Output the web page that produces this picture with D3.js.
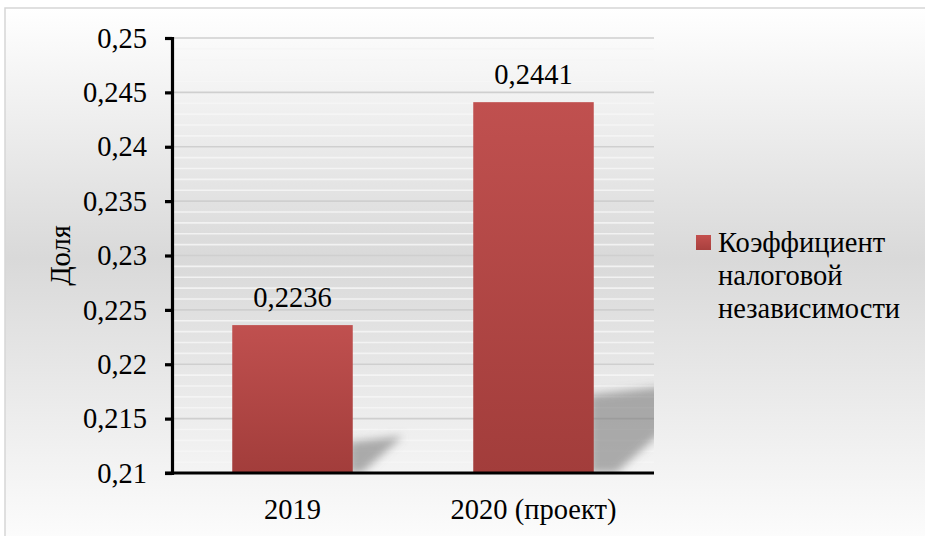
<!DOCTYPE html>
<html>
<head>
<meta charset="utf-8">
<script src="https://cdn.jsdelivr.net/npm/d3@7"></script>
<style>
  html, body { margin: 0; padding: 0; background: #ffffff; }
  svg { display: block; }
  svg text { font-family: "Liberation Serif", Tinos, "Times New Roman", "DejaVu Serif", serif !important; fill: #000; }
</style>
</head>
<body>
<svg id="chart" width="925" height="536"></svg>
<script>
// Коэффициент налоговой независимости
const categories = ["2019", "2020 (проект)"];
const values = [0.2236, 0.2441];
const valueLabels = ["0,2236", "0,2441"];
const seriesName = ["Коэффициент", "налоговой", "независимости"];
const yTicks = [0.21, 0.215, 0.22, 0.225, 0.23, 0.235, 0.24, 0.245, 0.25];
const yTickLabels = ["0,21", "0,215", "0,22", "0,225", "0,23", "0,235", "0,24", "0,245", "0,25"];
const yMinorStep = 0.001;
const yTitle = "Доля";

const FONT = "'Liberation Serif', Tinos, 'Times New Roman', 'DejaVu Serif', serif";
const FS = 28.5;

const svg = d3.select("#chart");
const W = 925, H = 536;
const plot = { left: 172, right: 654, top: 38, bottom: 473 };

const defs = svg.append("defs");

// chart area background: light at top and bottom, grey in the middle
const bg = defs.append("linearGradient").attr("id", "bgGrad")
  .attr("x1", 0).attr("y1", 0).attr("x2", 0).attr("y2", 1);
bg.append("stop").attr("offset", "0%").attr("stop-color", "#ffffff");
bg.append("stop").attr("offset", "45%").attr("stop-color", "#d9d9d9");
bg.append("stop").attr("offset", "100%").attr("stop-color", "#ffffff");

const barGrad = defs.append("linearGradient").attr("id", "barGrad")
  .attr("x1", 0).attr("y1", 0).attr("x2", 0).attr("y2", 1);
barGrad.append("stop").attr("offset", "0%").attr("stop-color", "#c0504f");
barGrad.append("stop").attr("offset", "100%").attr("stop-color", "#a23d3b");

const legGrad = defs.append("linearGradient").attr("id", "legGrad")
  .attr("x1", 0).attr("y1", 0).attr("x2", 0).attr("y2", 1);
legGrad.append("stop").attr("offset", "0%").attr("stop-color", "#c4504e");
legGrad.append("stop").attr("offset", "100%").attr("stop-color", "#a8403e");

defs.append("filter").attr("id", "shadowBlur")
  .attr("x", "-50%").attr("y", "-50%").attr("width", "200%").attr("height", "200%")
  .append("feGaussianBlur").attr("stdDeviation", 4.5);

defs.append("clipPath").attr("id", "plotClip")
  .append("rect").attr("x", plot.left).attr("y", plot.top)
  .attr("width", plot.right - plot.left).attr("height", plot.bottom - plot.top);

// chart frame
svg.append("rect").attr("x", 5).attr("y", 8).attr("width", W + 10).attr("height", H + 20)
  .attr("fill", "url(#bgGrad)").attr("stroke", "#d6d6d6").attr("stroke-width", 1.5);

const x = d3.scaleBand().domain(categories)
  .range([plot.left, plot.right]).paddingInner(0.5).paddingOuter(0.25);
const y = d3.scaleLinear().domain([0.21, 0.25]).range([plot.bottom, plot.top]);

// minor gridlines
const minor = d3.range(0.21, 0.25 + 1e-9, yMinorStep)
  .filter(v => Math.abs(v * 200 - Math.round(v * 200)) > 1e-6);
svg.append("g").selectAll("line").data(minor).join("line")
  .attr("x1", plot.left).attr("x2", plot.right)
  .attr("y1", d => y(d)).attr("y2", d => y(d))
  .attr("stroke", "#f6f6f6").attr("stroke-opacity", 0.85).attr("stroke-width", 1.6);

// major gridlines
svg.append("g").selectAll("line").data(yTicks.slice(1)).join("line")
  .attr("x1", plot.left).attr("x2", plot.right)
  .attr("y1", d => y(d)).attr("y2", d => y(d))
  .attr("stroke", "#cfcfcf").attr("stroke-width", 1.6);

// floor shadows cast by the bars
const shadows = svg.append("g").attr("clip-path", "url(#plotClip)");
categories.forEach((c, i) => {
  const xr = x(c) + x.bandwidth();
  const base = y(0.21);
  const h = base - y(values[i]);
  const pts = [
    [xr - 4, base],
    [xr - 4, base - 0.21 * h],
    [xr + 0.34 * h, base - 0.25 * h],
    [xr + 0.06 * h, base]
  ];
  shadows.append("path")
    .attr("d", d3.line()(pts) + "Z")
    .attr("fill", "#7a7a7a").attr("fill-opacity", 0.6)
    .attr("filter", "url(#shadowBlur)");
});

// bars
svg.append("g").selectAll("rect").data(values).join("rect")
  .attr("x", (d, i) => x(categories[i]))
  .attr("width", x.bandwidth())
  .attr("y", d => y(d))
  .attr("height", d => y(0.21) - y(d))
  .attr("fill", "url(#barGrad)");

// value labels
svg.append("g").selectAll("text").data(values).join("text")
  .attr("x", (d, i) => x(categories[i]) + x.bandwidth() / 2)
  .attr("y", d => y(d) - 18)
  .attr("text-anchor", "middle")
  .attr("font-size", FS)
  .style("font-family", FONT)
  .text((d, i) => valueLabels[i]);

// y axis
const yAxis = d3.axisLeft(y).tickValues(yTicks)
  .tickFormat((d, i) => yTickLabels[i]).tickSize(7).tickPadding(18);
const gy = svg.append("g").attr("transform", `translate(${plot.left},0)`).call(yAxis)
  .attr("font-family", null);
gy.select(".domain").attr("stroke", "#000").attr("stroke-width", 3.2);
gy.selectAll(".tick line").attr("stroke", "#000").attr("stroke-width", 3.2);
gy.selectAll(".tick text").attr("font-size", FS).style("font-family", FONT).attr("fill", "#000");

// x axis
const xAxis = d3.axisBottom(x).tickSize(0).tickPadding(26);
const gx = svg.append("g").attr("transform", `translate(0,${plot.bottom})`).call(xAxis)
  .attr("font-family", null);
gx.select(".domain").attr("stroke", "#000").attr("stroke-width", 3.2)
  .attr("d", `M${plot.left - 7},0H${plot.right}`);
gx.selectAll(".tick text").attr("font-size", FS).style("font-family", FONT).attr("fill", "#000");

// y axis title
svg.append("text")
  .attr("transform", `translate(70,${(plot.top + plot.bottom) / 2}) rotate(-90)`)
  .attr("text-anchor", "middle").attr("font-size", FS)
  .style("font-family", FONT)
  .text(yTitle);

// legend
const leg = svg.append("g").attr("transform", "translate(696,235)");
leg.append("rect").attr("width", 15).attr("height", 15).attr("fill", "url(#legGrad)");
leg.append("text").attr("x", 22).attr("y", 0).attr("font-size", FS)
  .style("font-family", FONT)
  .selectAll("tspan").data(seriesName).join("tspan")
  .attr("x", 22).attr("y", (d, i) => 17 + i * 33)
  .text(d => d);
</script>
</body>
</html>
